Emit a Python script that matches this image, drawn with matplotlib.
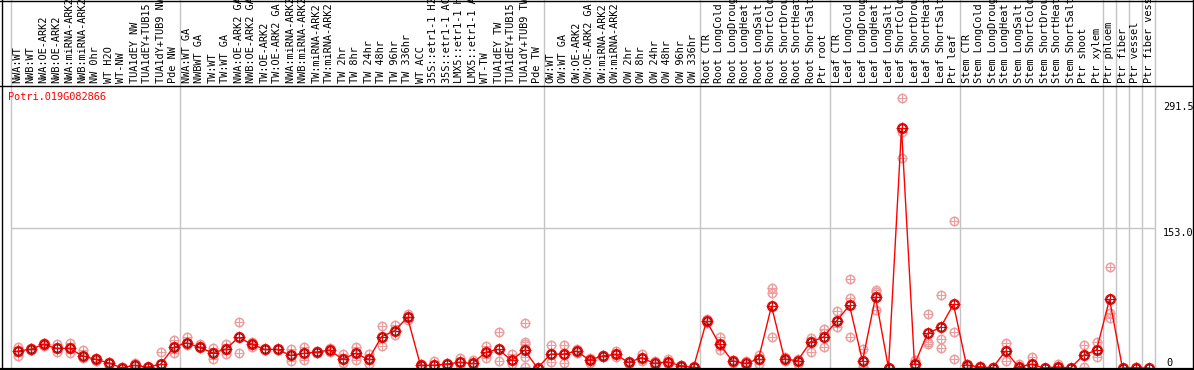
import numpy as np
import matplotlib.pyplot as plt
from matplotlib.lines import Line2D

# sample names, grouped as in the reference
g_nw = ["NWA:WT", "NWB:WT", "NWA:OE-ARK2", "NWB:OE-ARK2", "NWA:miRNA-ARK2", "NWB:miRNA-ARK2",
        "NW 0hr", "WT H2O", "WT-NW", "TUA1dEY NW", "TUA1dEY+TUB15 NW", "TUA1dY+TUB9 NW", "Pde NW"]
g_tw = ["NWA:WT GA", "NWBWT GA", "TW:WT", "TW:WT GA", "NWA:OE-ARK2 GA", "NWB:OE-ARK2 GA",
        "TW:OE-ARK2", "TW:OE-ARK2 GA", "NWA:miRNA-ARK2 GA", "NWB:miRNA-ARK2 GA", "TW:miRNA-ARK2",
        "TW:miRNA-ARK2 GA", "TW 2hr", "TW 8hr", "TW 24hr", "TW 48hr", "TW 96hr", "TW 336hr",
        "WT ACC", "35S::etr1-1 H2O", "35S::etr1-1 ACC", "LMX5::etr1-1 H2O", "LMX5::etr1-1 ACC",
        "WT-TW", "TUA1dEY TW", "TUA1dEY+TUB15 TW", "TUA1dY+TUB9 TW", "Pde TW"]
g_ow = ["OW:WT", "OW:WT GA", "OW:OE-ARK2", "OW:OE-ARK2 GA", "OW:miRNA-ARK2", "OW:miRNA-ARK2 GA",
        "OW 2hr", "OW 8hr", "OW 24hr", "OW 48hr", "OW 96hr", "OW 336hr"]
conds = ["CTR", "LongCold", "LongDrought", "LongHeat", "LongSalt",
         "ShortCold", "ShortDrought", "ShortHeat", "ShortSalt"]
g_root = ["Root " + c for c in conds] + ["Ptr root"]
g_leaf = ["Leaf " + c for c in conds] + ["Ptr leaf"]
g_stem = ["Stem " + c for c in conds] + ["Ptr shoot", "Ptr xylem"]
g_ptr = ["Ptr phloem", "Ptr fiber", "Ptr vessel", "Ptr fiber vessel"]
groups = [g_nw, g_tw, g_ow, g_root, g_leaf, g_stem] + [[s] for s in g_ptr]
labels = [s for g in groups for s in g]

means = [18.6, 20.5, 26, 21.6, 21.6, 13.5, 9.5, 5.8, 0.3, 3, 1.1, 4, 22.7,
         27.7, 22.7, 16.8, 20.5, 33.6, 26.3, 20.5, 20.5, 13.9, 16.1, 17.5, 19.7, 9.9, 16.1,
         9.5, 34.3, 40.9, 55.5, 3, 3, 4.4, 6.2, 5.1, 17.2, 20.5, 8.4, 19.7, 0,
         15.3, 15.3, 18.6, 8.8, 13.2, 15, 6.2, 11.3, 5.1, 6.9, 2.6, 0.7,
         51.5, 26, 7.7, 5.1, 9.9, 68, 9.9, 8, 28.5, 34,
         51.5, 68.7, 7.7, 77.8, 0, 262.7, 4, 38, 44.6, 69.8,
         3, 1.4, 0.3, 18.6, 1.4, 4, 0, 1.4, 0, 14.2, 19.7,
         75.3, 0, 0.3, 0]

replicates = [
    [22.7, 18.6, 13.5], [21.5, 20, 19.5], [28, 25, 24], [26, 21.6, 17.2], [27, 21.6, 16],
    [19.7, 13.5, 10.6], [10.6, 9.5, 8], [6.9, 5.8, 0], [1, 0.3, 0], [5.1, 3, 1.4],
    [1.5, 1.1, 0], [17.2, 4.4, 0], [30.7, 22.7, 16],
    [34.3, 27.7, 25.2], [26, 24, 22.7], [21.6, 16.8, 9.5], [26, 20.5, 15], [50.7, 33.6, 16.1],
    [28.8, 26.3, 23.4], [21, 20.5, 20], [21, 20.5, 20], [20.5, 13.9, 8], [23.4, 16.1, 8.8],
    [18.5, 17.5, 17], [21.6, 19.7, 17.5], [15, 9.9, 5.8], [23.4, 16.1, 8.8], [15.3, 9.5, 4.4],
    [46, 34.3, 24.1], [47, 40.9, 36], [59, 55.5, 53], [4, 3, 2], [8, 3, 0.5], [6, 4.4, 0],
    [10.6, 6.2, 3], [8.8, 5.1, 0], [24, 17.2, 10.6], [39, 20.5, 7.7], [15, 8.4, 4.4],
    [49.3, 28.8, 26, 19.7, 12.4, 1.4], [0.5, 0, 0],
    [25.2, 15.3, 6.2], [25.2, 15.3, 5.8], [21, 18.6, 16], [11.5, 8.8, 6], [14.5, 13.2, 12],
    [18.6, 15, 12], [7, 6.2, 5], [15, 11.3, 7.5], [8, 5.1, 2], [9.5, 6.9, 4.5],
    [3.5, 2.6, 1.5], [1, 0.7, 0],
    [54, 51.5, 49], [34.3, 26, 19.7], [9, 7.7, 5.1], [8, 5.1, 2], [14, 9.9, 5],
    [87.3, 82.5, 33.6], [12, 9.9, 8], [10, 8, 4.4], [32.5, 30, 17.9], [42.4, 38, 22.7],
    [62.5, 51.5, 45.3], [97.2, 76.4, 33.6], [20.5, 7.7, 1.4], [85.5, 83.6, 63.6], [0.5, 0, 0],
    [295.6, 259, 230.5], [8.8, 4, 1], [58.9, 28.8, 26], [80, 31.4, 21.6], [160.8, 39, 9.9],
    [5, 3, 1], [2, 1.4, 1], [1, 0.3, 0], [27, 18.6, 8], [5, 1.4, 0], [12.4, 4, 1],
    [0.5, 0, 0], [4, 1.4, 0], [0.5, 0, 0], [25.2, 14.2, 1.4], [28.2, 19.7, 12.4],
    [110.4, 60.6, 54.5], [0.5, 0, 0], [1, 0.3, 0], [0.5, 0, 0]]

yticks = [0, 153.0, 291.5]
gene = "Potri.019G082866"

W, H = 1194, 370
mono = "DejaVu Sans Mono"
pink = "#ec9e9e"

fig = plt.figure(figsize=(W / 100, H / 100), dpi=100)
fig.patch.set_facecolor("white")
ax = fig.add_axes([11 / W, 1 / H, 1144 / W, 283 / H])
ax.set_xlim(-0.5, len(labels) - 0.5)
ax.set_ylim(-1, 309)
ax.axis("off")

# group separators, running up through the label strip
b = np.cumsum([0] + [len(g) for g in groups])
for v in b:
    ax.axvline(v - 0.5, ymin=0, ymax=369 / 283, color="#c4c4c4", lw=1, clip_on=False, zorder=0)
ax.axhline(153.0, color="#c4c4c4", lw=1, zorder=0)

x = np.arange(len(labels))
for i, reps in enumerate(replicates):
    xi = [i] * len(reps)
    ax.plot(xi, reps, "+", ms=7.5, mec=pink, mew=0.8, clip_on=False, zorder=2)
    ax.plot(xi, reps, "o", ms=6, mfc="none", mec=pink, mew=1.1, clip_on=False, zorder=2)

ax.plot(x, means, "-", color="red", lw=1, clip_on=False, zorder=3)
ax.plot(x, means, "+", ms=8, mec="red", mew=0.8, clip_on=False, zorder=4)
ax.plot(x, means, "o", ms=6.8, mfc="none", mec="red", mew=1.2, clip_on=False, zorder=4)
ax.plot(x, means, "o", ms=5.2, mfc="none", mec="#300000", mew=0.5, clip_on=False, zorder=5)

# sample names
for i, s in enumerate(labels):
    ax.text(i, 1 + 3 / 283, s, rotation=90, ha="center", va="bottom", family=mono,
            fontsize=7.4, transform=ax.get_xaxis_transform(), clip_on=False)

# value labels on the right
for v in yticks:
    if v == 0:
        ax.text(1.0096, v, "0", va="bottom", ha="left", family=mono, fontsize=7.4,
                transform=ax.get_yaxis_transform())
    else:
        ax.text(1.007, v, "%.1f" % v, va="top", ha="left", family=mono, fontsize=7.4,
                transform=ax.get_yaxis_transform())

fig.text(8 / W, 1 - 97 / H, gene, color="red", va="center", ha="left", family=mono, fontsize=7.4)

# frame lines
fig.add_artist(Line2D([0, 1], [1 - 85.5 / H] * 2, color="black", lw=1))
fig.add_artist(Line2D([0, 1], [1 - 368.5 / H] * 2, color="black", lw=1.6))
fig.add_artist(Line2D([0, 1], [1 - 0.5 / H] * 2, color="black", lw=1))
fig.add_artist(Line2D([2 / W] * 2, [0, 1], color="black", lw=1))
fig.add_artist(Line2D([1 - 1 / W] * 2, [0, 1], color="black", lw=1))

fig.savefig("out.png", dpi=100)
